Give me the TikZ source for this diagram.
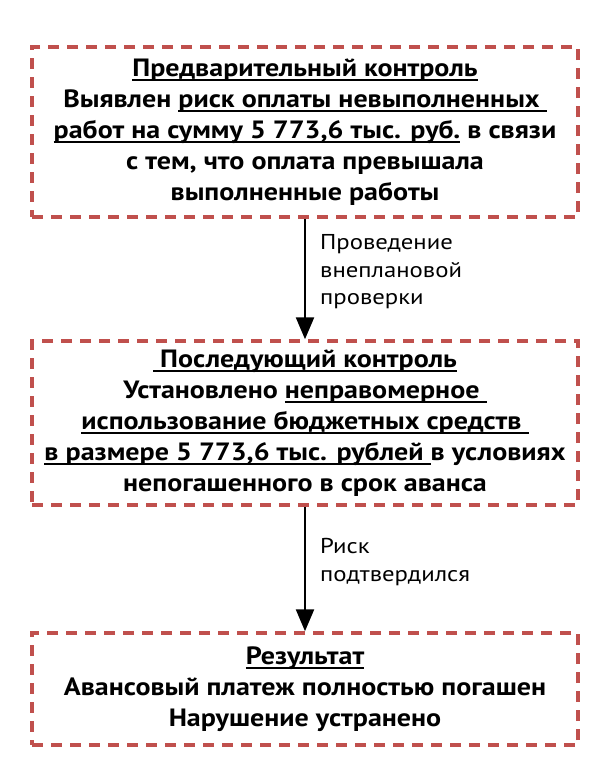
\documentclass[tikz,border=0pt]{standalone}
\usepackage{fontspec}
\setmainfont{PT Sans}
\newfontfamily\wfont[FakeStretch=1.12]{PT Sans}
\newfontfamily\lfont[FakeStretch=1.15]{PT Sans}
\usetikzlibrary{arrows.meta}
\definecolor{boxred}{RGB}{192,80,77}
\newcommand{\ulx}[1]{\setbox0\hbox{#1}\rlap{\rule[-4.5pt]{\wd0}{2pt}}\box0\relax}
\tikzset{
  dbox/.style={draw=boxred, line width=3.5pt, dash pattern=on 11pt off 8pt,
    minimum width=546pt, inner sep=0pt, align=center,
    font=\wfont\bfseries\fontsize{25}{31}\selectfont},
  flow/.style={line width=2.5pt, -{Triangle[width=18pt,length=22pt]}},
  lab/.style={anchor=west, align=left, inner sep=0pt, font=\lfont\fontsize{21.5}{27.5}\selectfont}
}
\begin{document}
\begin{tikzpicture}[x=1pt,y=-1pt]
\useasboundingbox (0,0) rectangle (600,777);
\node[dbox, minimum height=170pt] (b1) at (305,132) {\ulx{Предварительный контроль}\\
Выявлен \ulx{риск оплаты невыполненных }\\
\ulx{работ на сумму 5 773,6 тыс. руб.} в связи\\
с тем, что оплата превышала\\
выполненные работы};
\node[dbox, minimum height=164pt] (b2) at (305,423) {\ulx{ Последующий контроль}\\
Установлено \ulx{неправомерное }\\
\ulx{использование бюджетных средств }\\
\ulx{в размере 5 773,6 тыс. рублей }в условиях\\
непогашенного в срок аванса};
\node[dbox, minimum height=112pt] (b3) at (305,689) {\ulx{Результат}\\
Авансовый платеж полностью погашен\\
Нарушение устранено};
\draw[flow] (b1.south) -- (b2.north);
\draw[flow] (b2.south) -- (b3.north);
\node[lab] (l1) at (320,272) {Проведение\\внеплановой\\проверки};
\node[lab] (l2) at (320,562) {Риск\\подтвердился};
\end{tikzpicture}
\end{document}
